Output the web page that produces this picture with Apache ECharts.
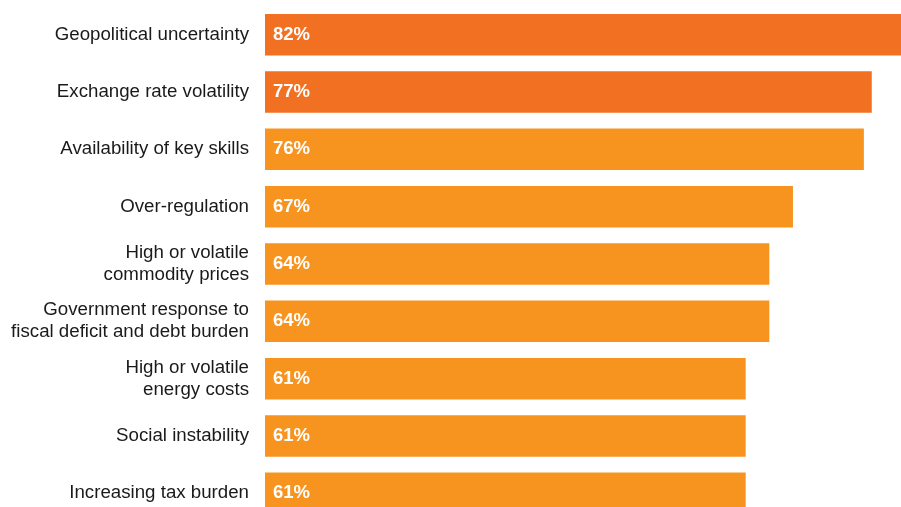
<!DOCTYPE html>
<html>
<head>
<meta charset="utf-8">
<script src="https://cdn.jsdelivr.net/npm/echarts@6/dist/echarts.min.js"></script>
<style>
    html, body { margin: 0; padding: 0; background: #fff; }
    #chart { width: 901px; height: 507px; }
</style>
</head>
<body>
<div id="chart"></div>
<script>
const categories = [
    'Geopolitical uncertainty',
    'Exchange rate volatility',
    'Availability of key skills',
    'Over-regulation',
    'High or volatile\ncommodity prices',
    'Government response to\nfiscal deficit and debt burden',
    'High or volatile\nenergy costs',
    'Social instability',
    'Increasing tax burden'
]
const values = [82, 77, 76, 67, 64, 64, 61, 61, 61]
const highlighted = [true, true, false, false, false, false, false, false, false]

const darkOrange = '#F27022'
const lightOrange = '#F7931F'

const myChart = echarts.init(document.getElementById('chart'))

const option = {
    animation: false,
    grid: {
        left: 265,
        top: 6,
        width: 788,
        height: 516,
        outerBoundsMode: 'none'
    },
    xAxis: {
        type: 'value',
        min: 0,
        max: 100,
        show: false
    },
    yAxis: {
        type: 'category',
        inverse: true,
        data: categories,
        axisLine: { show: false },
        axisTick: { show: false },
        axisLabel: {
            margin: 16,
            color: '#1a1a1a',
            fontSize: 18.7,
            lineHeight: 22,
            fontFamily: 'Liberation Sans, Arial, sans-serif'
        }
    },
    series: [
        {
            type: 'bar',
            barCategoryGap: '27.5%',
            data: values.map((v, i) => ({
                value: v,
                itemStyle: { color: highlighted[i] ? darkOrange : lightOrange }
            })),
            label: {
                show: true,
                position: 'insideLeft',
                distance: 8,
                formatter: '{c}%',
                color: '#fff',
                fontWeight: 'bold',
                fontSize: 18.5,
                fontFamily: 'Liberation Sans, Arial, sans-serif'
            }
        }
    ]
}

myChart.setOption(option)
</script>
</body>
</html>
